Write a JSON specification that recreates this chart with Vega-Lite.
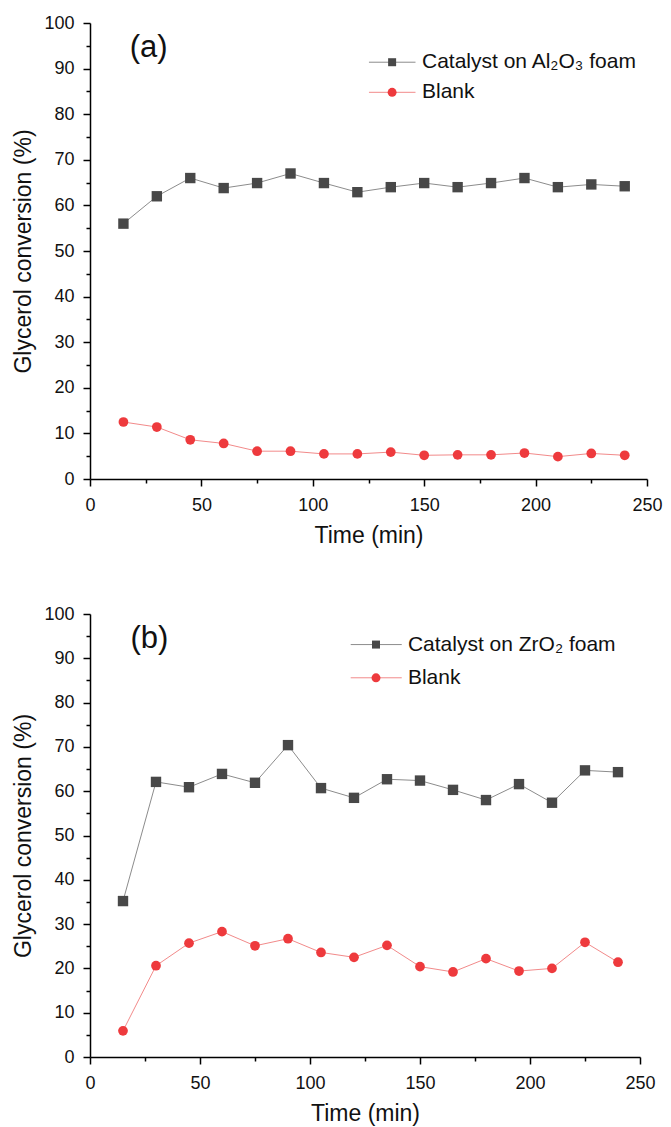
{
  "$schema": "https://vega.github.io/schema/vega-lite/v6.json",
  "padding": {"top": 14, "left": 12, "right": 5, "bottom": 5},
  "background": "white",
  "spacing": 58,
  "datasets": {
    "a": [
      {"time": 15, "conv": 56.0, "series": "Catalyst on Al₂O₃ foam"},
      {"time": 30, "conv": 62.0, "series": "Catalyst on Al₂O₃ foam"},
      {"time": 45, "conv": 66.0, "series": "Catalyst on Al₂O₃ foam"},
      {"time": 60, "conv": 63.8, "series": "Catalyst on Al₂O₃ foam"},
      {"time": 75, "conv": 64.9, "series": "Catalyst on Al₂O₃ foam"},
      {"time": 90, "conv": 67.0, "series": "Catalyst on Al₂O₃ foam"},
      {"time": 105, "conv": 64.9, "series": "Catalyst on Al₂O₃ foam"},
      {"time": 120, "conv": 62.9, "series": "Catalyst on Al₂O₃ foam"},
      {"time": 135, "conv": 64.0, "series": "Catalyst on Al₂O₃ foam"},
      {"time": 150, "conv": 64.9, "series": "Catalyst on Al₂O₃ foam"},
      {"time": 165, "conv": 64.0, "series": "Catalyst on Al₂O₃ foam"},
      {"time": 180, "conv": 64.9, "series": "Catalyst on Al₂O₃ foam"},
      {"time": 195, "conv": 66.0, "series": "Catalyst on Al₂O₃ foam"},
      {"time": 210, "conv": 64.0, "series": "Catalyst on Al₂O₃ foam"},
      {"time": 225, "conv": 64.6, "series": "Catalyst on Al₂O₃ foam"},
      {"time": 240, "conv": 64.2, "series": "Catalyst on Al₂O₃ foam"},
      {"time": 15, "conv": 12.5, "series": "Blank"},
      {"time": 30, "conv": 11.4, "series": "Blank"},
      {"time": 45, "conv": 8.6, "series": "Blank"},
      {"time": 60, "conv": 7.8, "series": "Blank"},
      {"time": 75, "conv": 6.1, "series": "Blank"},
      {"time": 90, "conv": 6.1, "series": "Blank"},
      {"time": 105, "conv": 5.5, "series": "Blank"},
      {"time": 120, "conv": 5.5, "series": "Blank"},
      {"time": 135, "conv": 5.9, "series": "Blank"},
      {"time": 150, "conv": 5.2, "series": "Blank"},
      {"time": 165, "conv": 5.3, "series": "Blank"},
      {"time": 180, "conv": 5.3, "series": "Blank"},
      {"time": 195, "conv": 5.7, "series": "Blank"},
      {"time": 210, "conv": 4.9, "series": "Blank"},
      {"time": 225, "conv": 5.6, "series": "Blank"},
      {"time": 240, "conv": 5.2, "series": "Blank"}
    ],
    "b": [
      {"time": 15, "conv": 35.2, "series": "Catalyst on ZrO₂ foam"},
      {"time": 30, "conv": 62.1, "series": "Catalyst on ZrO₂ foam"},
      {"time": 45, "conv": 60.9, "series": "Catalyst on ZrO₂ foam"},
      {"time": 60, "conv": 63.9, "series": "Catalyst on ZrO₂ foam"},
      {"time": 75, "conv": 61.9, "series": "Catalyst on ZrO₂ foam"},
      {"time": 90, "conv": 70.4, "series": "Catalyst on ZrO₂ foam"},
      {"time": 105, "conv": 60.7, "series": "Catalyst on ZrO₂ foam"},
      {"time": 120, "conv": 58.5, "series": "Catalyst on ZrO₂ foam"},
      {"time": 135, "conv": 62.7, "series": "Catalyst on ZrO₂ foam"},
      {"time": 150, "conv": 62.4, "series": "Catalyst on ZrO₂ foam"},
      {"time": 165, "conv": 60.3, "series": "Catalyst on ZrO₂ foam"},
      {"time": 180, "conv": 58.0, "series": "Catalyst on ZrO₂ foam"},
      {"time": 195, "conv": 61.6, "series": "Catalyst on ZrO₂ foam"},
      {"time": 210, "conv": 57.4, "series": "Catalyst on ZrO₂ foam"},
      {"time": 225, "conv": 64.7, "series": "Catalyst on ZrO₂ foam"},
      {"time": 240, "conv": 64.3, "series": "Catalyst on ZrO₂ foam"},
      {"time": 15, "conv": 5.9, "series": "Blank"},
      {"time": 30, "conv": 20.6, "series": "Blank"},
      {"time": 45, "conv": 25.7, "series": "Blank"},
      {"time": 60, "conv": 28.3, "series": "Blank"},
      {"time": 75, "conv": 25.1, "series": "Blank"},
      {"time": 90, "conv": 26.7, "series": "Blank"},
      {"time": 105, "conv": 23.6, "series": "Blank"},
      {"time": 120, "conv": 22.5, "series": "Blank"},
      {"time": 135, "conv": 25.2, "series": "Blank"},
      {"time": 150, "conv": 20.4, "series": "Blank"},
      {"time": 165, "conv": 19.2, "series": "Blank"},
      {"time": 180, "conv": 22.2, "series": "Blank"},
      {"time": 195, "conv": 19.4, "series": "Blank"},
      {"time": 210, "conv": 20.0, "series": "Blank"},
      {"time": 225, "conv": 25.9, "series": "Blank"},
      {"time": 240, "conv": 21.4, "series": "Blank"}
    ]
  },
  "config": {
    "font": "Liberation Sans",
    "view": {"stroke": null},
    "axis": {
      "grid": false,
      "domainColor": "#000",
      "domainWidth": 1.5,
      "tickColor": "#000",
      "tickWidth": 1.5,
      "labelFont": "Liberation Sans",
      "labelFontSize": 18,
      "labelColor": "#111",
      "labelOverlap": false,
      "titleFont": "Liberation Sans",
      "titleFontSize": 23,
      "titleFontWeight": "normal",
      "titleColor": "#111"
    }
  },
  "resolve": {"scale": {"color": "independent", "stroke": "independent", "shape": "independent", "size": "independent"}},
  "vconcat": [
    {
      "width": 557,
      "height": 456,
      "data": {"name": "a"},
      "resolve": {"axis": {"x": "independent", "y": "independent"}},
      "layer": [
        {
          "mark": {"type": "point", "opacity": 0},
          "encoding": {
            "x": {"field": "time", "type": "quantitative", "scale": {"domain": [0, 250], "nice": false},
              "axis": {"orient": "bottom", "title": null, "values": [25, 75, 125, 175, 225], "labels": false, "domain": false, "tickSize": 4}},
            "y": {"field": "conv", "type": "quantitative", "scale": {"domain": [0, 100], "nice": false},
              "axis": {"orient": "left", "title": null, "values": [5, 15, 25, 35, 45, 55, 65, 75, 85, 95], "labels": false, "domain": false, "tickSize": 4}}
          }
        },
        {
          "mark": {"type": "line", "strokeWidth": 1},
          "encoding": {
            "x": {"field": "time", "type": "quantitative",
              "axis": {"orient": "bottom", "title": "Time (min)", "values": [0, 50, 100, 150, 200, 250], "tickSize": 7, "labelPadding": 10, "labelFlush": false, "titlePadding": 10}},
            "y": {"field": "conv", "type": "quantitative",
              "axis": {"orient": "left", "title": "Glycerol conversion (%)", "values": [0, 10, 20, 30, 40, 50, 60, 70, 80, 90, 100], "tickSize": 7, "labelPadding": 9, "titlePadding": 8}},
            "stroke": {"field": "series", "type": "nominal",
              "scale": {"domain": ["Catalyst on Al₂O₃ foam", "Blank"], "range": ["#8c8c8c", "#f28a8a"]}, "legend": null}
          }
        },
        {
          "mark": {"type": "point", "filled": true, "opacity": 1, "strokeWidth": 0},
          "encoding": {
            "x": {"field": "time", "type": "quantitative", "axis": null},
            "y": {"field": "conv", "type": "quantitative", "axis": null},
            "color": {"field": "series", "type": "nominal",
              "scale": {"domain": ["Catalyst on Al₂O₃ foam", "Blank"], "range": ["#484848", "#ee3a3d"]}, "legend": null},
            "shape": {"field": "series", "type": "nominal",
              "scale": {"domain": ["Catalyst on Al₂O₃ foam", "Blank"], "range": ["square", "circle"]}, "legend": null},
            "size": {"field": "series", "type": "nominal",
              "scale": {"domain": ["Catalyst on Al₂O₃ foam", "Blank"], "range": [108, 95]}, "legend": null}
          }
        },
        {
          "data": {"values": [{}]},
          "mark": {"type": "text", "text": "(a)", "font": "Liberation Sans", "fontSize": 31, "align": "center", "baseline": "middle", "color": "#111"},
          "encoding": {
            "x": {"datum": 26.3, "type": "quantitative", "axis": null},
            "y": {"datum": 94.5, "type": "quantitative", "axis": null}
          }
        },
        {
          "data": {"values": [{}]},
          "mark": {"type": "rule", "strokeWidth": 1, "color": "#8c8c8c"},
          "encoding": {
            "x": {"datum": 125.2, "type": "quantitative", "axis": null},
            "x2": {"datum": 146.1},
            "y": {"datum": 91.4, "type": "quantitative", "axis": null}
          }
        },
        {
          "data": {"values": [{}]},
          "mark": {"type": "point", "shape": "square", "filled": true, "opacity": 1, "size": 64, "color": "#484848"},
          "encoding": {
            "x": {"datum": 135.6, "type": "quantitative", "axis": null},
            "y": {"datum": 91.4, "type": "quantitative", "axis": null}
          }
        },
        {
          "data": {"values": [{}]},
          "mark": {"type": "text", "text": "Catalyst on Al₂O₃ foam", "font": "Liberation Sans", "fontSize": 21, "align": "left", "baseline": "middle", "color": "#111"},
          "encoding": {
            "x": {"datum": 149.0, "type": "quantitative", "axis": null},
            "y": {"datum": 91.4, "type": "quantitative", "axis": null}
          }
        },
        {
          "data": {"values": [{}]},
          "mark": {"type": "rule", "strokeWidth": 1, "color": "#f28a8a"},
          "encoding": {
            "x": {"datum": 125.2, "type": "quantitative", "axis": null},
            "x2": {"datum": 146.1},
            "y": {"datum": 84.8, "type": "quantitative", "axis": null}
          }
        },
        {
          "data": {"values": [{}]},
          "mark": {"type": "point", "shape": "circle", "filled": true, "opacity": 1, "size": 80, "color": "#ee3a3d"},
          "encoding": {
            "x": {"datum": 135.6, "type": "quantitative", "axis": null},
            "y": {"datum": 84.8, "type": "quantitative", "axis": null}
          }
        },
        {
          "data": {"values": [{}]},
          "mark": {"type": "text", "text": "Blank", "font": "Liberation Sans", "fontSize": 21, "align": "left", "baseline": "middle", "color": "#111"},
          "encoding": {
            "x": {"datum": 149.0, "type": "quantitative", "axis": null},
            "y": {"datum": 84.8, "type": "quantitative", "axis": null}
          }
        }
      ]
    },
    {
      "width": 550,
      "height": 443,
      "data": {"name": "b"},
      "resolve": {"axis": {"x": "independent", "y": "independent"}},
      "layer": [
        {
          "mark": {"type": "point", "opacity": 0},
          "encoding": {
            "x": {"field": "time", "type": "quantitative", "scale": {"domain": [0, 250], "nice": false},
              "axis": {"orient": "bottom", "title": null, "values": [25, 75, 125, 175, 225], "labels": false, "domain": false, "tickSize": 4}},
            "y": {"field": "conv", "type": "quantitative", "scale": {"domain": [0, 100], "nice": false},
              "axis": {"orient": "left", "title": null, "values": [5, 15, 25, 35, 45, 55, 65, 75, 85, 95], "labels": false, "domain": false, "tickSize": 4}}
          }
        },
        {
          "mark": {"type": "line", "strokeWidth": 1},
          "encoding": {
            "x": {"field": "time", "type": "quantitative",
              "axis": {"orient": "bottom", "title": "Time (min)", "values": [0, 50, 100, 150, 200, 250], "tickSize": 7, "labelPadding": 10, "labelFlush": false, "titlePadding": 10}},
            "y": {"field": "conv", "type": "quantitative",
              "axis": {"orient": "left", "title": "Glycerol conversion (%)", "values": [0, 10, 20, 30, 40, 50, 60, 70, 80, 90, 100], "tickSize": 7, "labelPadding": 9, "titlePadding": 8}},
            "stroke": {"field": "series", "type": "nominal",
              "scale": {"domain": ["Catalyst on ZrO₂ foam", "Blank"], "range": ["#8c8c8c", "#f28a8a"]}, "legend": null}
          }
        },
        {
          "mark": {"type": "point", "filled": true, "opacity": 1, "strokeWidth": 0},
          "encoding": {
            "x": {"field": "time", "type": "quantitative", "axis": null},
            "y": {"field": "conv", "type": "quantitative", "axis": null},
            "color": {"field": "series", "type": "nominal",
              "scale": {"domain": ["Catalyst on ZrO₂ foam", "Blank"], "range": ["#484848", "#ee3a3d"]}, "legend": null},
            "shape": {"field": "series", "type": "nominal",
              "scale": {"domain": ["Catalyst on ZrO₂ foam", "Blank"], "range": ["square", "circle"]}, "legend": null},
            "size": {"field": "series", "type": "nominal",
              "scale": {"domain": ["Catalyst on ZrO₂ foam", "Blank"], "range": [108, 95]}, "legend": null}
          }
        },
        {
          "data": {"values": [{}]},
          "mark": {"type": "text", "text": "(b)", "font": "Liberation Sans", "fontSize": 31, "align": "center", "baseline": "middle", "color": "#111"},
          "encoding": {
            "x": {"datum": 27.0, "type": "quantitative", "axis": null},
            "y": {"datum": 94.4, "type": "quantitative", "axis": null}
          }
        },
        {
          "data": {"values": [{}]},
          "mark": {"type": "rule", "strokeWidth": 1, "color": "#8c8c8c"},
          "encoding": {
            "x": {"datum": 118.5, "type": "quantitative", "axis": null},
            "x2": {"datum": 141.7},
            "y": {"datum": 93.1, "type": "quantitative", "axis": null}
          }
        },
        {
          "data": {"values": [{}]},
          "mark": {"type": "point", "shape": "square", "filled": true, "opacity": 1, "size": 64, "color": "#484848"},
          "encoding": {
            "x": {"datum": 130.0, "type": "quantitative", "axis": null},
            "y": {"datum": 93.1, "type": "quantitative", "axis": null}
          }
        },
        {
          "data": {"values": [{}]},
          "mark": {"type": "text", "text": "Catalyst on ZrO₂ foam", "font": "Liberation Sans", "fontSize": 21, "align": "left", "baseline": "middle", "color": "#111"},
          "encoding": {
            "x": {"datum": 144.5, "type": "quantitative", "axis": null},
            "y": {"datum": 93.1, "type": "quantitative", "axis": null}
          }
        },
        {
          "data": {"values": [{}]},
          "mark": {"type": "rule", "strokeWidth": 1, "color": "#f28a8a"},
          "encoding": {
            "x": {"datum": 118.5, "type": "quantitative", "axis": null},
            "x2": {"datum": 141.7},
            "y": {"datum": 85.6, "type": "quantitative", "axis": null}
          }
        },
        {
          "data": {"values": [{}]},
          "mark": {"type": "point", "shape": "circle", "filled": true, "opacity": 1, "size": 80, "color": "#ee3a3d"},
          "encoding": {
            "x": {"datum": 130.0, "type": "quantitative", "axis": null},
            "y": {"datum": 85.6, "type": "quantitative", "axis": null}
          }
        },
        {
          "data": {"values": [{}]},
          "mark": {"type": "text", "text": "Blank", "font": "Liberation Sans", "fontSize": 21, "align": "left", "baseline": "middle", "color": "#111"},
          "encoding": {
            "x": {"datum": 144.5, "type": "quantitative", "axis": null},
            "y": {"datum": 85.6, "type": "quantitative", "axis": null}
          }
        }
      ]
    }
  ]
}
